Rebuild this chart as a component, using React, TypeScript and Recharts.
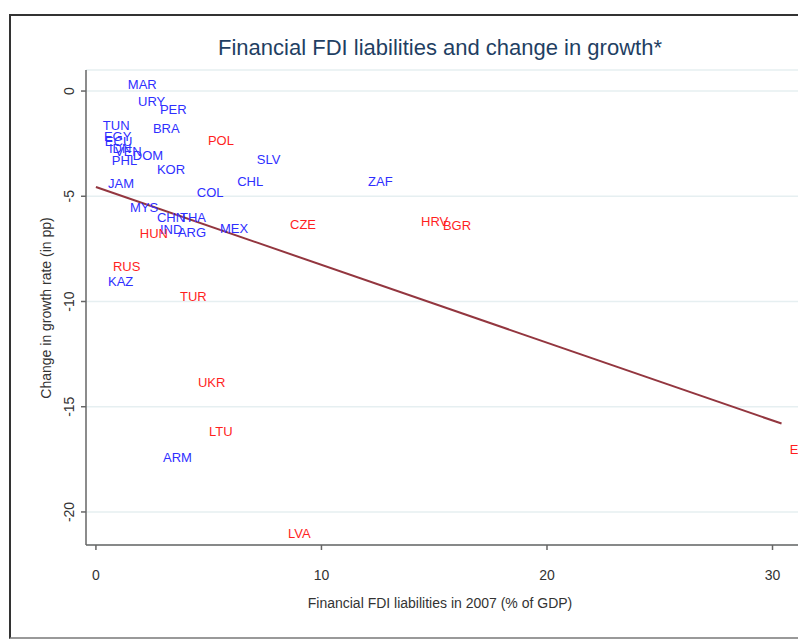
import React from 'react'
import { ScatterChart, Scatter, XAxis, YAxis, CartesianGrid, ReferenceLine } from 'recharts'

// blue labelled countries
const blueCodes = ['MAR', 'URY', 'PER', 'TUN', 'BRA', 'EGY', 'ECU', 'IDN', 'VEN', 'PHL', 'DOM', 'SLV', 'KOR', 'JAM', 'CHL', 'COL', 'ZAF', 'MYS', 'CHN', 'THA', 'IND', 'ARG', 'MEX', 'KAZ', 'ARM']
const blueX = [1.15, 1.6, 2.57, 0.04, 2.26, 0.09, 0.13, 0.31, 0.58, 0.44, 1.37, 6.87, 2.44, 0.27, 6.0, 4.21, 11.8, 1.24, 2.44, 3.46, 2.57, 3.37, 5.23, 0.27, 2.71]
const blueY = [0.29, -0.48, -0.9, -1.66, -1.76, -2.14, -2.38, -2.71, -2.85, -3.28, -3.04, -3.23, -3.75, -4.37, -4.28, -4.8, -4.28, -5.51, -6.03, -6.03, -6.56, -6.7, -6.51, -9.07, -17.43]

// red labelled countries
const redCodes = ['POL', 'HUN', 'CZE', 'HRV', 'BGR', 'RUS', 'TUR', 'UKR', 'LTU', 'LVA', 'EST']
const redX = [4.7, 1.68, 8.34, 14.15, 15.12, 0.49, 3.46, 4.26, 4.75, 8.25, 30.5]
const redY = [-2.33, -6.75, -6.32, -6.18, -6.41, -8.36, -9.74, -13.87, -16.2, -21.0, -17.05]

// fitted line end points
const fitX = [0, 30.4]
const fitY = [-4.56, -15.8]

const xTicks = [0, 10, 20, 30]
const yTicks = [0, -5, -10, -15, -20]

const blueData = blueCodes.map((c, i) => ({ code: c, x: blueX[i], y: blueY[i] }))
const redData = redCodes.map((c, i) => ({ code: c, x: redX[i], y: redY[i] }))

const FONT = '"Liberation Sans", Arial, sans-serif'

const labelShape = (color: string) => (props: any) => (
  <text x={props.cx + 6} y={props.cy} fill={color} fontSize={13} fontFamily={FONT} dominantBaseline="central">
    {props.payload.code}
  </text>
)

const YTick = (props: any) => {
  const { x, y, payload } = props
  return (
    <text x={x - 10} y={y} transform={`rotate(-90, ${x - 10}, ${y})`} textAnchor="middle" dominantBaseline="central"
      fontSize={14} fontFamily={FONT} fill="#333">
      {payload.value}
    </text>
  )
}

const App = () => {
  return (
    <div style={{ position: 'absolute', left: 0, top: 0, width: 798, height: 639, overflow: 'hidden', background: '#fff' }}>
      <div style={{ position: 'absolute', left: 9, top: 14, width: 820, height: 621, borderLeft: '2px solid #333', borderTop: '2px solid #333', borderBottom: '2px solid #999' }} />
      <ScatterChart width={798} height={639} margin={{ top: 70, right: 0, bottom: 54, left: 30 }} style={{ position: 'absolute', left: 0, top: 0 }}>
        <CartesianGrid horizontal vertical={false} stroke="#e6eff1" strokeWidth={1.5} />
        <XAxis type="number" dataKey="x" domain={[-0.44, 31.13]} ticks={xTicks} allowDataOverflow height={40}
          tickSize={5} tickMargin={20} stroke="#666" strokeWidth={1.5}
          tick={{ fontSize: 14, fontFamily: FONT, fill: '#333' }} />
        <YAxis type="number" dataKey="y" domain={[-21.57, 1.0]} ticks={yTicks} allowDataOverflow width={56}
          tickSize={5} tickMargin={2} stroke="#666" strokeWidth={1.5} tick={<YTick />} />
        <ReferenceLine segment={[{ x: fitX[0], y: fitY[0] }, { x: fitX[1], y: fitY[1] }]} stroke="#93363f" strokeWidth={2} ifOverflow="visible" />
        <Scatter data={blueData} shape={labelShape('#2f2fff')} isAnimationActive={false} />
        <Scatter data={redData} shape={labelShape('#ff1f1f')} isAnimationActive={false} />
      </ScatterChart>
      <svg width={798} height={639} style={{ position: 'absolute', left: 0, top: 0, pointerEvents: 'none' }}>
        <text x={440} y={47} textAnchor="middle" dominantBaseline="central" fontSize={22} fontFamily={FONT} fill="#1f3f63">
          Financial FDI liabilities and change in growth*
        </text>
        <text x={440} y={603} textAnchor="middle" dominantBaseline="central" fontSize={14} fontFamily={FONT} fill="#333">
          Financial FDI liabilities in 2007 (% of GDP)
        </text>
        <text x={46} y={308} transform="rotate(-90, 46, 308)" textAnchor="middle" dominantBaseline="central" fontSize={14} fontFamily={FONT} fill="#333">
          Change in growth rate (in pp)
        </text>
      </svg>
    </div>
  )
}

export default App
